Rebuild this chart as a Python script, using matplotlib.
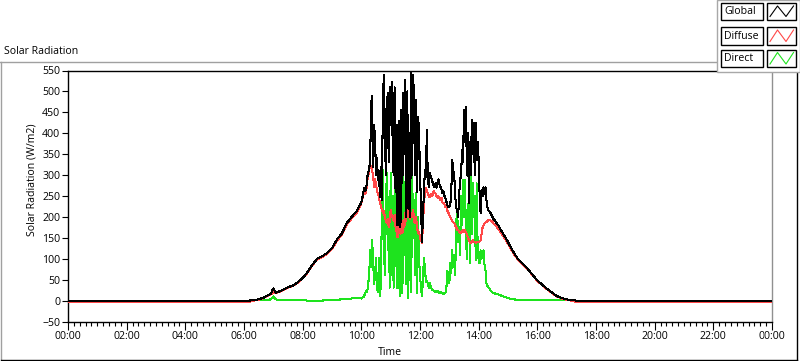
import matplotlib
matplotlib.use("Agg")
import matplotlib.pyplot as plt
from matplotlib.patches import Rectangle
from matplotlib.lines import Line2D
import numpy as np

plt.rcParams['font.family'] = ['Open Sans', 'DejaVu Sans']

# ---------------- data ----------------
morning_times = ["00:00", "06:00", "06:10", "06:20", "06:30", "06:40", "06:50", "06:55", "07:00", "07:05",
                 "07:10", "07:20", "07:30", "07:40", "07:50", "08:00", "08:10", "08:20", "08:30", "08:40",
                 "08:50", "09:00", "09:10", "09:20", "09:30", "09:40", "09:50"]
morning_global = [0, 0, 0, 1, 3, 7, 13, 17, 29, 19,
                  21, 26, 32, 36, 44, 54, 68, 86, 100, 106,
                  114, 125, 146, 160, 185, 200, 213]
morning_diffuse = [-3, -3, -3, 0, 2, 6, 12, 15, 20, 17,
                   20, 25, 31, 35, 43, 53, 67, 85, 98, 104,
                   112, 123, 143, 157, 181, 196, 209]
morning_direct = [0, 0, 0, 1, 1, 2, 2, 3, 10, 3,
                  2, 2, 2, 2, 1, 1, 0, 0, 0, 0,
                  1, 1, 2, 3, 4, 5, 6]

# midday readings every 2 minutes, 10:00 .. 14:30
midday_times = [
    "10:00", "10:02", "10:04", "10:06", "10:08", "10:10", "10:12", "10:14", "10:16", "10:18",
    "10:20", "10:22", "10:24", "10:26", "10:28", "10:30", "10:32", "10:34", "10:36", "10:38",
    "10:40", "10:42", "10:44", "10:46", "10:48", "10:50", "10:52", "10:54", "10:56", "10:58",
    "11:00", "11:02", "11:04", "11:06", "11:08", "11:10", "11:12", "11:14", "11:16", "11:18",
    "11:20", "11:22", "11:24", "11:26", "11:28", "11:30", "11:32", "11:34", "11:36", "11:38",
    "11:40", "11:42", "11:44", "11:46", "11:48", "11:50", "11:52", "11:54", "11:56", "11:58",
    "12:00", "12:02", "12:04", "12:06", "12:08", "12:10", "12:12", "12:14", "12:16", "12:18",
    "12:20", "12:22", "12:24", "12:26", "12:28", "12:30", "12:32", "12:34", "12:36", "12:38",
    "12:40", "12:42", "12:44", "12:46", "12:48", "12:50", "12:52", "12:54", "12:56", "12:58",
    "13:00", "13:02", "13:04", "13:06", "13:08", "13:10", "13:12", "13:14", "13:16", "13:18",
    "13:20", "13:22", "13:24", "13:26", "13:28", "13:30", "13:32", "13:34", "13:36", "13:38",
    "13:40", "13:42", "13:44", "13:46", "13:48", "13:50", "13:52", "13:54", "13:56", "13:58",
    "14:00", "14:02", "14:04", "14:06", "14:08", "14:10", "14:12", "14:14", "14:16", "14:18",
    "14:20", "14:22", "14:24", "14:26", "14:28", "14:30",
]
midday_global = [
    235, 245, 258, 270, 262, 268, 295, 305, 318, 330,
    470, 488, 320, 420, 392, 300, 340, 288, 310, 247,
    320, 240, 473, 540, 420, 300, 460, 497, 330, 510,
    420, 523, 380, 300, 510, 260, 420, 180, 257, 430,
    175, 456, 280, 497, 350, 528, 200, 500, 220, 400,
    200, 545, 300, 540, 473, 300, 480, 260, 440, 408,
    300, 233, 140, 200, 260, 312, 296, 408, 290, 271,
    305, 296, 290, 282, 275, 271, 280, 270, 282, 290,
    276, 271, 265, 257, 262, 250, 245, 236, 228, 223,
    223, 230, 262, 336, 312, 300, 250, 223, 216, 199,
    250, 288, 300, 360, 330, 456, 380, 463, 300, 400,
    233, 380, 300, 432, 350, 425, 300, 425, 336, 380,
    336, 250, 209, 264, 250, 271, 255, 271, 240, 223,
    216, 214, 210, 205, 200, 196,
]
midday_diffuse = [
    232, 242, 252, 262, 255, 262, 285, 298, 310, 325,
    320, 310, 300, 272, 290, 280, 262, 255, 247, 235,
    225, 216, 210, 215, 200, 192, 185, 195, 175, 190,
    216, 205, 199, 190, 205, 175, 165, 151, 180, 192,
    160, 185, 161, 192, 175, 210, 190, 233, 200, 216,
    195, 209, 200, 216, 190, 185, 200, 175, 161, 165,
    150, 145, 137, 180, 230, 257, 269, 262, 257, 250,
    247, 255, 250, 252, 262, 258, 255, 247, 250, 245,
    247, 240, 245, 235, 233, 230, 223, 225, 215, 210,
    205, 199, 195, 190, 188, 185, 180, 175, 170, 168,
    165, 163, 161, 165, 168, 165, 168, 163, 158, 150,
    145, 140, 137, 140, 144, 139, 140, 138, 140, 139,
    139, 142, 144, 160, 175, 180, 185, 187, 188, 190,
    192, 193, 192, 190, 188, 185,
]
midday_direct = [
    5, 7, 8, 12, 18, 24, 20, 40, 60, 120,
    80, 144, 100, 40, 60, 103, 30, 20, 103, 10,
    40, 216, 312, 150, 60, 200, 305, 120, 247, 31,
    305, 60, 250, 31, 200, 271, 80, 30, 240, 100,
    10, 260, 17, 305, 110, 257, 40, 280, 5, 200,
    296, 20, 305, 150, 240, 60, 257, 17, 200, 100,
    60, 31, 10, 50, 103, 80, 45, 48, 40, 30,
    41, 35, 28, 25, 24, 22, 20, 22, 24, 20,
    18, 20, 17, 18, 16, 17, 18, 30, 72, 50,
    41, 90, 65, 120, 80, 110, 60, 185, 216, 140,
    175, 110, 250, 180, 288, 200, 288, 150, 100, 200,
    250, 90, 305, 160, 281, 200, 250, 96, 280, 120,
    96, 89, 120, 100, 110, 120, 85, 72, 41, 35,
    31, 29, 25, 22, 20, 18,
]

evening_times = ["14:40", "14:50", "15:00", "15:10", "15:20", "15:30", "15:40", "15:50", "16:00", "16:10",
                 "16:20", "16:30", "16:40", "16:50", "17:00", "17:10", "17:20", "24:00"]
evening_global = [180, 160, 140, 118, 100, 88, 76, 62, 48, 38,
                  28, 19, 11, 6, 3, 1, 0, 0]
evening_diffuse = [172, 155, 136, 115, 98, 86, 75, 61, 47, 37,
                   27, 18, 10, 5, 2, 0, -3, -3]
evening_direct = [15, 10, 6, 3, 2, 2, 2, 1, 1, 1,
                  1, 1, 1, 1, 1, 0, 0, 0]

series_names = ["Global", "Diffuse", "Direct"]
series_colors = ["#000000", "#ff4848", "#1ee31e"]

tick_minutes = [0, 120, 240, 360, 480, 600, 720, 840, 960, 1080, 1200, 1320, 1440]
tick_labels = ["00:00", "02:00", "04:00", "06:00", "08:00", "10:00", "12:00",
               "14:00", "16:00", "18:00", "20:00", "22:00", "00:00"]
y_ticks = [-50, 0, 50, 100, 150, 200, 250, 300, 350, 400, 450, 500, 550]


def to_minutes(s):
    h, m = s.split(":")
    return int(h) * 60 + int(m)


times = morning_times + midday_times + evening_times
t = np.array([to_minutes(s) for s in times])
global_rad = np.array(morning_global + midday_global + evening_global)
diffuse_rad = np.array(morning_diffuse + midday_diffuse + evening_diffuse)
direct_rad = np.array(morning_direct + midday_direct + evening_direct)

# ---------------- figure ----------------
W, H = 800, 361
fig = plt.figure(figsize=(W / 100, H / 100), dpi=100)
fig.patch.set_facecolor("white")


def fx(x):
    return x / W


def fy(y):
    return 1 - y / H


ax_l, ax_r, ax_t, ax_b = 68, 772, 70.5, 321.5
ax = fig.add_axes([fx(ax_l), fy(ax_b), (ax_r - ax_l) / W, (ax_b - ax_t) / H])
ax.set_facecolor("white")

lw = 0.75
ax.plot(t, direct_rad, color=series_colors[2], lw=lw, zorder=2, antialiased=False)
ax.plot(t, diffuse_rad, color=series_colors[1], lw=lw, zorder=3, antialiased=False)
ax.plot(t, global_rad, color=series_colors[0], lw=lw, zorder=4, antialiased=False)

ax.set_xlim(0, 1440)
ax.set_ylim(-50, 550)
ax.set_xticks(tick_minutes)
ax.set_xticklabels(tick_labels)
ax.set_xticks(np.arange(0, 1441, 12), minor=True)
ax.set_yticks(y_ticks)

fs = 7.6
ax.tick_params(axis="x", which="major", length=5.5, width=0.8, pad=1.5, labelsize=fs, colors="black")
ax.tick_params(axis="x", which="minor", length=3, width=0.8)
ax.tick_params(axis="y", which="major", length=4, width=0.8, pad=1.5, labelsize=fs)

for s in ["left", "bottom", "top"]:
    ax.spines[s].set_color("black")
    ax.spines[s].set_linewidth(1.0)
ax.spines["right"].set_color("#909090")
ax.spines["right"].set_linewidth(1.0)

ax.set_ylabel("Solar Radiation (W/m2)", fontsize=fs)
ax.yaxis.set_label_coords((38 - ax_l) / (ax_r - ax_l), (ax_b - 180) / (ax_b - ax_t))
ax.set_xlabel("Time", fontsize=fs)
ax.xaxis.set_label_coords((390 - ax_l) / (ax_r - ax_l), (ax_b - 347) / (ax_b - ax_t))

# title
fig.text(fx(4), fy(51), "Solar Radiation", fontsize=fs, ha="left", va="center")

# outer frame
tf = fig.transFigure
fig.add_artist(Line2D([fx(0), fx(717)], [fy(61.5), fy(61.5)], color="#a0a0a0", lw=1.0, transform=tf))
fig.add_artist(Line2D([fx(1), fx(1)], [fy(61.5), fy(359)], color="#a0a0a0", lw=1.0, transform=tf))
fig.add_artist(Line2D([fx(1), fx(797)], [fy(359.5), fy(359.5)], color="black", lw=1.0, transform=tf))
fig.add_artist(Line2D([fx(797), fx(797)], [fy(72), fy(359.5)], color="black", lw=1.0, transform=tf))

# legend panel
fig.add_artist(Rectangle((fx(717), fy(72)), (800 - 717) / W, 72 / H, facecolor="white",
                         edgecolor="#a8a8a8", lw=1.0, transform=tf, zorder=10))
rows = [(3, 19.5), (27, 44.5), (49.5, 67)]
for (top, bot), name, col in zip(rows, series_names, series_colors):
    fig.add_artist(Rectangle((fx(721), fy(bot)), (763 - 721) / W, (bot - top) / H,
                             facecolor="white", edgecolor="black", lw=1.0, transform=tf, zorder=11))
    fig.text(fx(724), fy((top + bot) / 2 + 0.5), name, fontsize=fs, ha="left", va="center", zorder=12)
    fig.add_artist(Rectangle((fx(767), fy(bot)), (796 - 767) / W, (bot - top) / H,
                             facecolor="white", edgecolor="black", lw=1.0, transform=tf, zorder=11))
    zx = [770, 777.5, 786, 793.5]
    zy = [bot - 3, top + 3, bot - 3, top + 3]
    fig.add_artist(Line2D([fx(v) for v in zx], [fy(v) for v in zy], color=col, lw=0.8,
                          transform=tf, zorder=12))

fig.savefig("out.png", dpi=100, facecolor="white")
